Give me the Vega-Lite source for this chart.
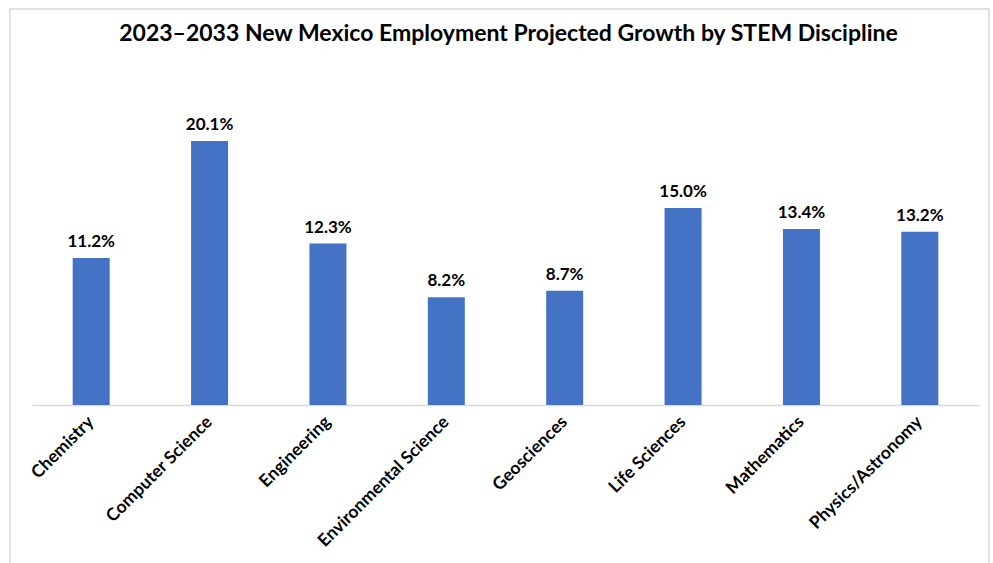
{
  "$schema": "https://vega.github.io/schema/vega-lite/v6.json",
  "width": 979,
  "height": 560,
  "autosize": {"type": "none"},
  "padding": {"left": 10, "top": 9, "right": 4, "bottom": 0},
  "background": "white",
  "title": {
    "text": "2023–2033 New Mexico Employment Projected Growth by STEM Discipline",
    "font": "Lato",
    "fontSize": 23,
    "fontWeight": "bold",
    "color": "black",
    "offset": -37,
    "anchor": "middle",
    "dx": 9
  },
  "data": {
    "values": [
      {"discipline": "Chemistry", "growth": 0.112},
      {"discipline": "Computer Science", "growth": 0.201},
      {"discipline": "Engineering", "growth": 0.123},
      {"discipline": "Environmental Science", "growth": 0.082},
      {"discipline": "Geosciences", "growth": 0.087},
      {"discipline": "Life Sciences", "growth": 0.150},
      {"discipline": "Mathematics", "growth": 0.134},
      {"discipline": "Physics/Astronomy", "growth": 0.132}
    ]
  },
  "encoding": {
    "x": {
      "field": "discipline",
      "type": "nominal",
      "sort": null,
      "scale": {"range": [22, 969], "paddingInner": 0, "paddingOuter": 0},
      "axis": {
        "title": null,
        "labelAngle": -45,
        "labelFont": "Lato",
        "labelFontSize": 17.5,
        "labelFontWeight": "bold",
        "labelColor": "black",
        "labelAlign": "right",
        "labelBaseline": "middle",
        "labelPadding": 14,
        "labelLimit": 0,
        "ticks": false,
        "domainColor": "#D9D9D9",
        "domainWidth": 1.5,
        "offset": -164
      }
    },
    "y": {
      "field": "growth",
      "type": "quantitative",
      "scale": {"domain": [-0.1249, 0.3016], "nice": false, "zero": false},
      "axis": null
    }
  },
  "layer": [
    {"mark": {"type": "bar", "size": 37, "color": "#4472C4"}, "encoding": {"y2": {"datum": 0}}},
    {
      "mark": {"type": "text", "font": "Lato", "fontSize": 17, "fontWeight": "bold", "color": "black", "baseline": "alphabetic", "dy": -11},
      "encoding": {"text": {"field": "growth", "type": "quantitative", "format": ".1%"}}
    }
  ],
  "config": {"view": {"stroke": "#D9D9D9", "strokeWidth": 1.5}}
}
